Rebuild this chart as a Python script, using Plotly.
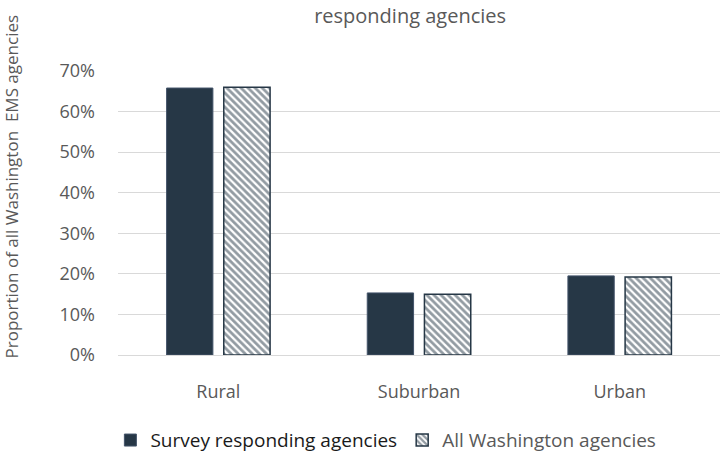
import plotly.graph_objects as go

categories = ["Rural", "Suburban", "Urban"]
survey_vals = [0.658, 0.153, 0.195]
all_vals = [0.660, 0.150, 0.192]
series_names = ["Survey responding agencies", "All Washington agencies"]
y_ticks = [0, 0.1, 0.2, 0.3, 0.4, 0.5, 0.6, 0.7]
y_ticklabels = ["0%", "10%", "20%", "30%", "40%", "50%", "60%", "70%"]

DARK = "#263746"
GRAY = "#595959"
FONT = "Open Sans"

fig = go.Figure()
fig.add_trace(go.Bar(
    x=categories, y=survey_vals,
    name="<span style='color:#1a1a1a'>" + series_names[0] + "</span>",
    marker=dict(color=DARK, line=dict(color="#44546a", width=1)),
))
fig.add_trace(go.Bar(
    x=categories, y=all_vals,
    name=series_names[1],
    marker=dict(color="white", line=dict(color=DARK, width=1.5),
                pattern=dict(shape="\\", fgcolor=DARK, bgcolor="white",
                             size=5, solidity=0.55)),
))

fig.update_layout(
    width=722, height=453,
    margin=dict(l=118, r=2, t=71, b=98, autoexpand=False),
    paper_bgcolor="white", plot_bgcolor="white",
    barmode="group", bargap=0.43, bargroupgap=0.19,
    font=dict(family=FONT, color=GRAY, size=18),
    showlegend=True,
    legend=dict(orientation="h", x=0.445, xanchor="center", y=-0.3, yanchor="middle",
                font=dict(size=19, color=GRAY), traceorder="normal",
                itemwidth=30, tracegroupgap=0),
    title=dict(text="responding agencies", x=0.568, xanchor="center",
               y=0.985, yanchor="top", yref="container", pad=dict(t=2),
               font=dict(family=FONT, size=20, color=GRAY)),
)
fig.update_xaxes(showgrid=False, showline=False, ticks="",
                 tickfont=dict(size=18, color=GRAY), ticklabelstandoff=24)
fig.update_yaxes(range=[0, 0.7], tickvals=y_ticks, ticktext=y_ticklabels,
                 showgrid=True, gridcolor="#d9d9d9", gridwidth=1,
                 zeroline=True, zerolinecolor="#d9d9d9", zerolinewidth=1,
                 showline=False, ticks="", ticklabelstandoff=22,
                 tickfont=dict(size=18, color=GRAY))
fig.add_annotation(text="Proportion of all Washington  EMS agencies",
                   textangle=-90, xref="paper", yref="paper",
                   x=-0.177, y=0.595, xanchor="center", yanchor="middle",
                   showarrow=False, font=dict(size=17, color=GRAY, family=FONT))

fig.write_html("out.html")
